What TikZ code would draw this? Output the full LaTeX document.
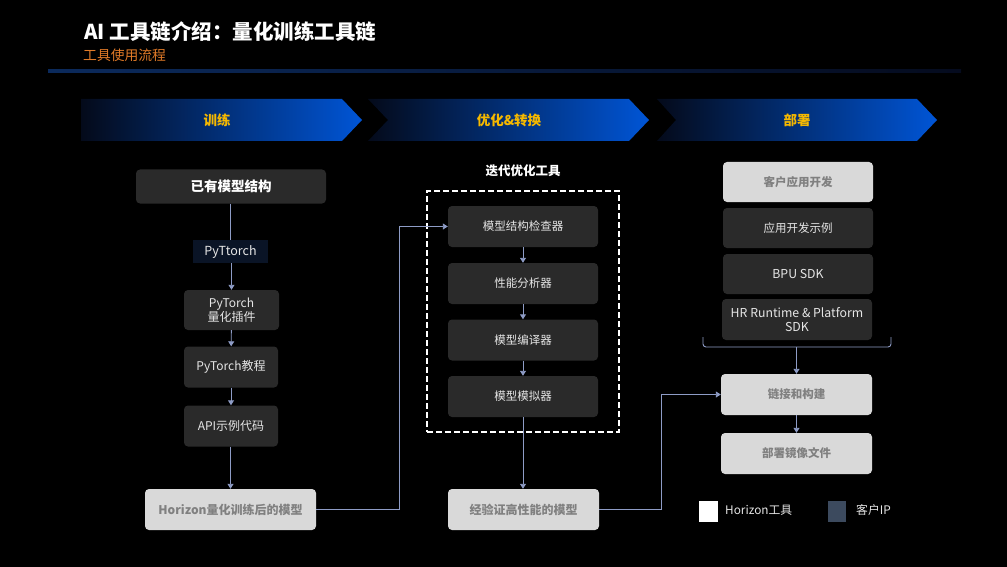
\documentclass[tikz,border=0pt]{standalone}
\usepackage{fontspec}
\setmainfont{Noto Sans CJK SC}
\usetikzlibrary{arrows.meta}
\definecolor{boxd}{HTML}{2A2A2A}
\definecolor{boxl}{HTML}{D9D9D9}
\definecolor{txtl}{HTML}{E6E6E6}
\definecolor{txtg}{HTML}{808080}
\definecolor{connc}{HTML}{8E9CC6}
\definecolor{navy}{HTML}{0A1426}
\definecolor{chevL}{HTML}{040A1A}
\definecolor{chevR}{HTML}{0055D6}
\definecolor{ylw}{HTML}{F5B800}
\definecolor{orng}{HTML}{E07A28}
\definecolor{ipc}{HTML}{3C4A5E}
\definecolor{lineM}{HTML}{0D3A85}
\definecolor{lineL}{HTML}{0B2A5C}
\definecolor{lineR}{HTML}{050B1E}
\begin{document}
\begin{tikzpicture}[x=1pt,y=-1pt,
  darkbox/.style={fill=boxd, rounded corners=4pt, text=txtl, font=\fontsize{11.5}{13.5}\selectfont, align=center, inner sep=0pt},
  lightbox/.style={fill=boxl, rounded corners=4pt, text=txtg, font=\bfseries\fontsize{11.5}{13.5}\selectfont, align=center, inner sep=0pt},
  conn/.style={draw=connc, line width=0.9pt},
  arr/.style={conn, -{Triangle[length=5pt,width=6pt]}},
  chev/.style={left color=chevL, right color=chevR},
  chevtext/.style={text=ylw, font=\bfseries\fontsize{13.5}{15}\selectfont, inner sep=0pt}]
\useasboundingbox (0,0) rectangle (1007,567);
\fill[black] (0,0) rectangle (1007,567);
% header
\node[anchor=west, inner sep=0pt, text=white, font=\bfseries\fontsize{20.5}{22}\selectfont] (title) at (84,32) {AI 工具链介绍：量化训练工具链};
\node[anchor=west, inner sep=0pt, text=orng, font=\fontsize{13.8}{15}\selectfont] (sub) at (83,55.5) {工具使用流程};
\shade[left color=lineL, middle color=lineM, right color=lineR] (48,70) rectangle (961,73);
% chevrons
\shade[chev] (81,99) -- (342,99) -- (362,120) -- (342,141) -- (81,141) -- cycle;
\shade[chev] (368,99) -- (629,99) -- (649,120) -- (629,141) -- (368,141) -- (388,120) -- cycle;
\shade[chev] (657,99) -- (917,99) -- (937,120) -- (917,141) -- (657,141) -- (676,120) -- cycle;
\node[chevtext] (c1) at (217,120) {训练};
\node[chevtext] (c2) at (509,120) {优化\&转换};
\node[chevtext] (c3) at (797,120) {部署};
% left column
\node[darkbox, text=white, font=\bfseries\fontsize{13.5}{15}\selectfont, minimum width=190, minimum height=34] (exist) at (231,186.5) {已有模型结构};
\node[fill=navy, text=txtl, inner sep=0pt, font=\fontsize{12.5}{14}\selectfont, minimum width=75, minimum height=23] (pyt) at (230.5,251.5) {PyTtorch};
\node[darkbox, font=\fontsize{12}{13.5}\selectfont, minimum width=95, minimum height=40] (plug) at (231.5,310) {PyTorch\\量化插件};
\node[darkbox, font=\fontsize{12}{13.5}\selectfont, minimum width=94, minimum height=41] (tut) at (231,367) {PyTorch教程};
\node[darkbox, font=\fontsize{12}{13.5}\selectfont, minimum width=94, minimum height=41] (api) at (231,426) {API示例代码};
\node[lightbox, font=\bfseries\fontsize{12}{14}\selectfont, minimum width=171, minimum height=41] (hq) at (230.5,509.5) {Horizon量化训练后的模型};
\draw[conn] (exist.south -| pyt.north) -- (pyt.north);
\draw[arr] (pyt.south -| plug.north) -- (plug.north);
\draw[arr] (plug) -- (tut);
\draw[arr] (tut) -- (api);
\draw[arr] (api.south -| hq.north) -- (hq.north);
% middle column
\node[text=white, inner sep=0pt, font=\bfseries\fontsize{12.5}{14}\selectfont] (iter) at (523,171) {迭代优化工具};
\node[draw=white, dash pattern=on 6pt off 3pt, line width=1.1pt, minimum width=192, minimum height=241, inner sep=0pt] (grp) at (523,311.5) {};
\node[darkbox, minimum width=150, minimum height=41] (chk) at (523,226.5) {模型结构检查器};
\node[darkbox, minimum width=150, minimum height=41] (perf) at (523,283.5) {性能分析器};
\node[darkbox, minimum width=150, minimum height=41] (comp) at (523,340) {模型编译器};
\node[darkbox, minimum width=150, minimum height=41] (sim) at (523,396.5) {模型模拟器};
\node[lightbox, font=\bfseries\fontsize{12}{14}\selectfont, minimum width=151, minimum height=41] (good) at (523.5,509.5) {经验证高性能的模型};
\draw[arr] (chk) -- (perf);
\draw[arr] (perf) -- (comp);
\draw[arr] (comp) -- (sim);
\draw[arr] (sim.south) -- (sim.south |- good.north);
\coordinate (j1) at (399,509.5);
\draw[arr] (hq.east) -- (j1) |- (chk.west);
% right column
\node[lightbox, minimum width=150, minimum height=40] (cust) at (798,182) {客户应用开发};
\node[darkbox, minimum width=150, minimum height=40] (appx) at (798,228) {应用开发示例};
\node[darkbox, font=\fontsize{12.3}{13.5}\selectfont, minimum width=150, minimum height=40] (bpu) at (798,274) {BPU SDK};
\node[darkbox, font=\fontsize{12.3}{13.5}\selectfont, minimum width=150, minimum height=41] (hr) at (797,319.5) {HR Runtime \& Platform\\SDK};
\node[lightbox, minimum width=151, minimum height=41] (link) at (796.5,394.5) {链接和构建};
\node[lightbox, minimum width=151, minimum height=41] (img) at (796.5,453.5) {部署镜像文件};
\coordinate (bl) at (703,337);
\coordinate (br) at (891,337);
\coordinate (bc) at (796.5,347);
\draw[conn, rounded corners=3pt] (bl) |- (bc) -| (br);
\draw[arr] (bc) -- (link.north);
\draw[arr] (link) -- (img);
\coordinate (j2) at (661,509.5);
\draw[arr] (good.east) -- (j2) |- (link.west);
% legend
\node[fill=white, minimum width=19, minimum height=21, inner sep=0pt] (lh) at (708,511.5) {};
\node[anchor=west, inner sep=0pt, text=txtl, font=\fontsize{11.8}{13}\selectfont] (lht) at (725,510) {Horizon工具};
\node[fill=ipc, minimum width=18, minimum height=21, inner sep=0pt] (lc) at (837,511.5) {};
\node[anchor=west, inner sep=0pt, text=txtl, font=\fontsize{11.8}{13}\selectfont] (lct) at (856,510) {客户IP};
\end{tikzpicture}
\end{document}
